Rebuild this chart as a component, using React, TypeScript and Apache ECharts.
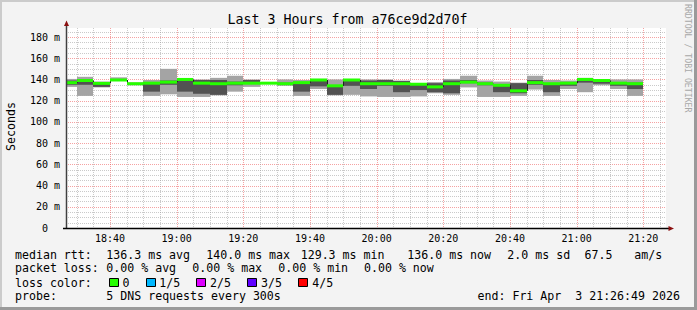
import React, { useEffect, useRef } from "react";
import * as echarts from "echarts";

// ---- data ----
const binEnds = ["18:30","18:35","18:40","18:45","18:50","18:55","19:00","19:05","19:10","19:15","19:20","19:25","19:30","19:35","19:40","19:45","19:50","19:55","20:00","20:05","20:10","20:15","20:20","20:25","20:30","20:35","20:40","20:45","20:50","20:55","21:00","21:05","21:10","21:15","21:20"];
const outerLow = [133,124.5,132.5,138.5,134.5,124.5,126,123.5,123.5,125,128.5,133,136,134.5,124.5,131,125,125.5,124,123.5,123.5,124,127,125.5,132.5,123.5,123.5,124.5,130.5,124.5,131,128,134.5,131,124.5];
const innerLow = [135,135,133,138.8,135,128.5,135,128.5,126.5,125.5,134.5,136,136.2,134.5,128.5,133.5,125.5,134,131,134,128,130,128,127,136.5,134.5,128,127,135,128,134,137,136,134,131];
const medianRtt = [137,139,136.3,139.5,136,136.5,137.5,140,136.5,136,136.5,136.5,136.5,136,137,139.5,134,139.5,136,136,136,135.5,133,136,137.5,136,134.5,129.3,137,136,136.5,140,139,136.5,136];
const innerHigh = [139,139.5,137,140,136.5,137,139,140.5,139.5,139.5,138,139.5,136.8,137,137.5,139.8,134.5,139.8,139,139.5,138.5,136,136.5,139,139.5,137,135,136.5,139.5,136.5,137,140.5,139.3,137,137];
const outerHigh = [140.5,142.5,138,142,137,139.5,150,140.8,140,141.5,143.5,140,137,140,139.5,140.5,140,140,140,140,139,136.5,137.5,140.5,143.5,139,138,137,143.5,139.5,139,141.5,139.5,140,140];
const lossPings = [0,0,0,0,0,0,0,0,0,0,0,0,0,0,0,0,0,0,0,0,0,0,0,0,0,0,0,0,0,0,0,0,0,0,0];

const yTickValues = [0, 20, 40, 60, 80, 100, 120, 140, 160, 180];
const xLabelTimes = ["18:40","19:00","19:20","19:40","20:00","20:20","20:40","21:00","21:20"];
const lossColors = ["#26ff00", "#00b8ff", "#dd00ff", "#5e00ff", "#ff0000"];
const lossLabels = ["0", "1/5", "2/5", "3/5", "4/5"];
const startTime = "18:26:49";
const endTime = "21:26:49";
const stepMinutes = 5;
const yMax = 188.5;

const FONT = "DejaVu Sans Mono";

function toMin(s: string): number {
  const p = s.split(":").map(Number);
  return p[0] * 60 + p[1] + (p[2] || 0) / 60;
}
function fmtTime(m: number): string {
  const h = Math.floor(m / 60);
  const mm = Math.round(m - h * 60);
  return `${String(h).padStart(2, "0")}:${String(mm).padStart(2, "0")}`;
}

export default function App() {
  const ref = useRef<HTMLDivElement>(null);
  useEffect(() => {
    if (!ref.current) return;
    const chart = echarts.init(ref.current, undefined, { renderer: "svg" });
    const xMin = toMin(startTime);
    const xMax = toMin(endTime);
    const xMajor = xLabelTimes.map(toMin);

    // grid lines (decoration)
    const gridData: number[][] = [];
    for (let v = 5; v < yMax; v += 5) {
      gridData.push([0, v, v % 20 === 0 ? 1 : 0]);
    }
    for (let t = Math.ceil(xMin / 5) * 5; t < xMax; t += 5) {
      gridData.push([1, t, xMajor.some((m) => Math.abs(m - t) < 0.01) ? 1 : 0]);
    }

    const smokeData = binEnds.map((e, i) => {
      const end = toMin(e);
      return [
        end - stepMinutes,
        end,
        outerLow[i],
        innerLow[i],
        medianRtt[i],
        innerHigh[i],
        outerHigh[i],
        i > 0 ? medianRtt[i - 1] : medianRtt[i],
        lossPings[i],
      ];
    });

    const option: any = {
      animation: false,
      backgroundColor: "#f3f3f3",
      grid: {
        left: 66,
        top: 28,
        width: 600,
        height: 200,
        show: true,
        backgroundColor: "#ffffff",
        borderWidth: 0,
      },
      xAxis: {
        type: "value",
        min: xMin,
        max: xMax,
        axisLine: { show: false },
        axisTick: { show: false },
        splitLine: { show: false },
        axisLabel: {
          customValues: xMajor,
          formatter: (v: number) => fmtTime(v),
          fontFamily: FONT,
          fontSize: 10,
          color: "#000",
          margin: 5,
        },
      },
      yAxis: {
        type: "value",
        min: 0,
        max: yMax,
        interval: 20,
        axisLine: { show: false },
        axisTick: { show: false },
        splitLine: { show: false },
        axisLabel: {
          customValues: yTickValues,
          formatter: (v: number) => (v > 180 ? "" : v === 0 ? "0\u00a0\u00a0" : `${v} m`),
          fontFamily: FONT,
          fontSize: 10,
          color: "#000",
          margin: 6,
        },
      },
      series: [
        {
          type: "custom",
          z: 1,
          silent: true,
          data: gridData,
          renderItem: (params: any, api: any) => {
            const cs = params.coordSys;
            const o = api.value(0);
            const v = api.value(1);
            const mj = api.value(2);
            const stroke = mj ? "rgba(235,70,70,0.5)" : "rgba(150,150,150,0.5)";
            if (o === 0) {
              const y = Math.round(api.coord([xMin, v])[1]) + 0.5;
              return {
                type: "line",
                shape: { x1: cs.x, y1: y, x2: cs.x + cs.width, y2: y },
                style: { stroke, lineWidth: 1, lineDash: [1, 1] },
              };
            }
            const x = Math.round(api.coord([v, 0])[0]) + 0.5;
            return {
              type: "line",
              shape: { x1: x, y1: cs.y, x2: x, y2: cs.y + cs.height },
              style: { stroke, lineWidth: 1, lineDash: [1, 1] },
            };
          },
        },
        {
          type: "custom",
          z: 2,
          silent: true,
          data: smokeData,
          renderItem: (params: any, api: any) => {
            const s = api.value(0);
            const e = api.value(1);
            const oLo = api.value(2);
            const iLo = api.value(3);
            const med = api.value(4);
            const iHi = api.value(5);
            const oHi = api.value(6);
            const prev = api.value(7);
            const loss = api.value(8);
            const xs = Math.round(api.coord([Math.max(s, xMin), 0])[0]);
            const xe = Math.round(api.coord([Math.min(e, xMax), 0])[0]);
            const y = (v: number) => api.coord([s, v])[1];
            const children: any[] = [];
            children.push({
              type: "rect",
              shape: { x: xs, y: y(oHi), width: xe - xs, height: y(oLo) - y(oHi) },
              style: { fill: "#a4a4a4" },
            });
            children.push({
              type: "rect",
              shape: { x: xs, y: y(iHi), width: xe - xs, height: y(iLo) - y(iHi) },
              style: { fill: "#525252" },
            });
            if (s >= xMin && prev !== med) {
              children.push({
                type: "line",
                shape: { x1: xs + 0.5, y1: y(prev), x2: xs + 0.5, y2: y(med) },
                style: { stroke: "#202020", lineWidth: 1 },
              });
            }
            children.push({
              type: "rect",
              shape: { x: xs, y: y(med) - 1.5, width: xe - xs, height: 3 },
              style: { fill: lossColors[loss] || lossColors[0] },
            });
            return { type: "group", children };
          },
        },
      ],
      graphic: [
        // frame shading
        { type: "rect", shape: { x: 0, y: 0, width: 697, height: 2 }, style: { fill: "#cbcbcb" }, z: 100 },
        { type: "rect", shape: { x: 0, y: 0, width: 2, height: 310 }, style: { fill: "#cbcbcb" }, z: 100 },
        { type: "rect", shape: { x: 694, y: 0, width: 3, height: 310 }, style: { fill: "#9a9a9a" }, z: 100 },
        { type: "rect", shape: { x: 0, y: 307, width: 697, height: 3 }, style: { fill: "#9a9a9a" }, z: 100 },
        // axes
        { type: "line", shape: { x1: 66.5, y1: 24, x2: 66.5, y2: 228 }, style: { stroke: "#404040", lineWidth: 1.5 }, z: 50 },
        { type: "line", shape: { x1: 63, y1: 228.5, x2: 669, y2: 228.5 }, style: { stroke: "#000", lineWidth: 1.5 }, z: 50 },
        { type: "polygon", shape: { points: [[66.5, 20.5], [64, 26], [69, 26]] }, style: { fill: "#8b1010" }, z: 51 },
        { type: "polygon", shape: { points: [[674, 228.5], [668.5, 226], [668.5, 231]] }, style: { fill: "#8b1010" }, z: 51 },
        // title & labels
        {
          type: "text",
          x: 347.5,
          y: 19.5,
          style: { text: "Last 3 Hours from a76ce9d2d70f", font: `13.3px ${FONT}`, fill: "#000", textAlign: "center", textVerticalAlign: "middle" },
        },
        {
          type: "text",
          x: 10.5,
          y: 126.5,
          rotation: Math.PI / 2,
          style: { text: "Seconds", font: `11.6px ${FONT}`, fill: "#000", textAlign: "center", textVerticalAlign: "middle" },
        },
        {
          type: "text",
          x: 688,
          y: 4,
          rotation: -Math.PI / 2,
          style: { text: "RRDTOOL / TOBI OETIKER", font: `8.2px ${FONT}`, fill: "#a8a8a8", textAlign: "left", textVerticalAlign: "middle" },
        },
        // legend line 1
        ...[
          ["median rtt:", 15],
          ["136.3 ms avg", 106.3],
          ["140.0 ms max", 206.3],
          ["129.3 ms min", 300.7],
          ["136.0 ms now", 407.3],
          ["2.0 ms sd", 507.3],
          ["67.5", 584.5],
          ["am/s", 634.3],
        ].map(([t, x]) => ({
          type: "text",
          x: x as number,
          y: 254.5,
          style: { text: t as string, font: `11.6px ${FONT}`, fill: "#000", textAlign: "left", textVerticalAlign: "middle" },
        })),
        // legend line 2
        ...[
          ["packet loss:", 15],
          ["0.00 % avg", 106.3],
          ["0.00 % max", 192.3],
          ["0.00 % min", 278.3],
          ["0.00 % now", 364],
        ].map(([t, x]) => ({
          type: "text",
          x: x as number,
          y: 268.3,
          style: { text: t as string, font: `11.6px ${FONT}`, fill: "#000", textAlign: "left", textVerticalAlign: "middle" },
        })),
        // legend line 3
        {
          type: "text",
          x: 15,
          y: 282.5,
          style: { text: "loss color:", font: `11.6px ${FONT}`, fill: "#000", textAlign: "left", textVerticalAlign: "middle" },
        },
        ...lossColors.map((c, i) => ({
          type: "rect",
          shape: { x: [109, 146, 196, 247, 298][i] + 0.5, y: 278.5, width: 9, height: 8 },
          style: { fill: c, stroke: "#000", lineWidth: 1 },
        })),
        ...lossLabels.map((l, i) => ({
          type: "text",
          x: [122.5, 159.3, 210, 261, 312.3][i],
          y: 282.5,
          style: { text: l, font: `11.6px ${FONT}`, fill: "#000", textAlign: "left", textVerticalAlign: "middle" },
        })),
        // legend line 4
        ...[
          ["probe:", 15],
          ["5 DNS requests every 300s", 106.3],
          ["end: Fri Apr  3 21:26:49 2026", 477.5],
        ].map(([t, x]) => ({
          type: "text",
          x: x as number,
          y: 296,
          style: { text: t as string, font: `11.6px ${FONT}`, fill: "#000", textAlign: "left", textVerticalAlign: "middle" },
        })),
      ],
    };
    chart.setOption(option);
    return () => chart.dispose();
  }, []);
  return (
    <div
      ref={ref}
      style={{ position: "fixed", left: 0, top: 0, width: 697, height: 310 }}
    />
  );
}
